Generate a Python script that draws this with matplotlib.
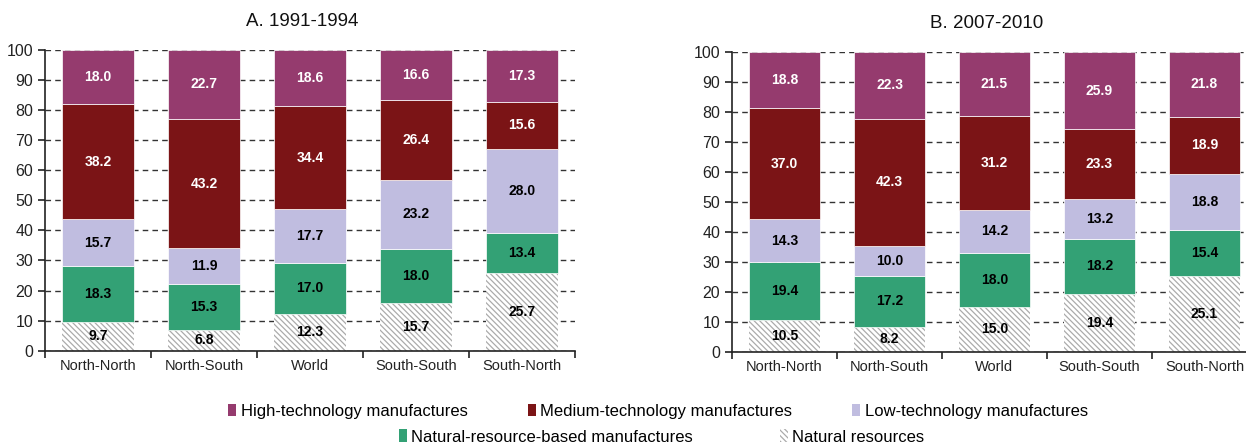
import matplotlib.pyplot as plt
from matplotlib.patches import Patch
import numpy as np

plt.rcParams['font.family'] = ['Liberation Sans', 'DejaVu Sans']
plt.rcParams['hatch.linewidth'] = 0.9

# Export structure by trade direction, shares in percent
categories = ["North-North", "North-South", "World", "South-South", "South-North"]
groups = ["High-technology manufactures", "Medium-technology manufactures",
          "Low-technology manufactures", "Natural-resource-based manufactures",
          "Natural resources"]

# Period A: 1991-1994
a_natural = [9.7, 6.8, 12.3, 15.7, 25.7]
a_resource_based = [18.3, 15.3, 17.0, 18.0, 13.4]
a_low = [15.7, 11.9, 17.7, 23.2, 28.0]
a_medium = [38.2, 43.2, 34.4, 26.4, 15.6]
a_high = [18.0, 22.7, 18.6, 16.6, 17.3]

# Period B: 2007-2010
b_natural = [10.5, 8.2, 15.0, 19.4, 25.1]
b_resource_based = [19.4, 17.2, 18.0, 18.2, 15.4]
b_low = [14.3, 10.0, 14.2, 13.2, 18.8]
b_medium = [37.0, 42.3, 31.2, 23.3, 18.9]
b_high = [18.8, 22.3, 21.5, 25.9, 21.8]

colors = {
    "high": "#953b6e",
    "medium": "#7b1416",
    "low": "#c0bde0",
    "resource_based": "#33a175",
}
hatch_gray = "#ababab"
hatch = "\\" * 6


def draw_panel(ax, title, natural, resource_based, low, medium, high):
    x = np.arange(len(categories))
    width = 0.68
    bottom = np.zeros(len(categories))
    stack = [
        (natural, None, "black"),
        (resource_based, colors["resource_based"], "black"),
        (low, colors["low"], "black"),
        (medium, colors["medium"], "white"),
        (high, colors["high"], "white"),
    ]
    for values, color, text_color in stack:
        values = np.array(values)
        if color is None:
            ax.bar(x, values, width, bottom=bottom, facecolor="white",
                   edgecolor=hatch_gray, hatch=hatch, linewidth=0, zorder=2)
        else:
            ax.bar(x, values, width, bottom=bottom, color=color,
                   edgecolor="white", linewidth=0.5, zorder=2)
        for xi, b, v in zip(x, bottom, values):
            ax.text(xi, b + v / 2, f"{v:.1f}", ha="center", va="center",
                    fontsize=10, fontweight="bold", color=text_color, zorder=3)
        bottom += values

    ax.set_xlim(-0.5, len(categories) - 0.5)
    ax.set_ylim(0, 100)
    ax.set_yticks(range(0, 101, 10))
    ax.set_xticks(x)
    ax.set_xticklabels(categories, fontsize=10.5, color="#222222")
    ax.set_xticks(np.arange(-0.5, len(categories)), minor=True)
    ax.tick_params(axis="x", which="major", length=0, pad=6)
    ax.tick_params(axis="x", which="minor", length=5, width=1.2,
                   direction="out", color="#222222")
    ax.tick_params(axis="y", length=5, width=1.2, direction="out",
                   labelsize=11.5, labelcolor="#222222", color="#222222")
    ax.yaxis.grid(True, linestyle=(0, (4, 3)), color="#333333", linewidth=1)
    ax.set_axisbelow(True)
    for side in ("top", "right"):
        ax.spines[side].set_visible(False)
    for side in ("left", "bottom"):
        ax.spines[side].set_linewidth(1.2)
        ax.spines[side].set_color("#222222")
    ax.set_title(title, fontsize=13.5, color="#111111", pad=17, x=0.485)


fig = plt.figure(figsize=(12.46, 4.46), dpi=100)
ax_a = fig.add_axes([0.0361, 0.2137, 0.4254, 0.6742])
ax_b = fig.add_axes([0.5875, 0.2114, 0.4213, 0.6727])

draw_panel(ax_a, "A. 1991-1994", a_natural, a_resource_based, a_low, a_medium, a_high)
draw_panel(ax_b, "B. 2007-2010", b_natural, b_resource_based, b_low, b_medium, b_high)

handles = [
    Patch(facecolor=colors["high"], edgecolor="none"),
    Patch(facecolor=colors["medium"], edgecolor="none"),
    Patch(facecolor=colors["low"], edgecolor="none"),
    Patch(facecolor=colors["resource_based"], edgecolor="none"),
    Patch(facecolor="white", edgecolor=hatch_gray, hatch=hatch, linewidth=0),
]
legend_style = dict(loc="center", frameon=False, fontsize=12,
                    handlelength=0.5, handleheight=0.8, handletextpad=0.25,
                    borderpad=0, borderaxespad=0)
fig.legend(handles[:3], groups[:3], bbox_to_anchor=(0.528, 0.078), ncol=3,
           columnspacing=3.6, **legend_style)
fig.legend(handles[3:], groups[3:], bbox_to_anchor=(0.531, 0.02), ncol=2,
           columnspacing=5.2, **legend_style)

fig.savefig("out.png", dpi=100)
